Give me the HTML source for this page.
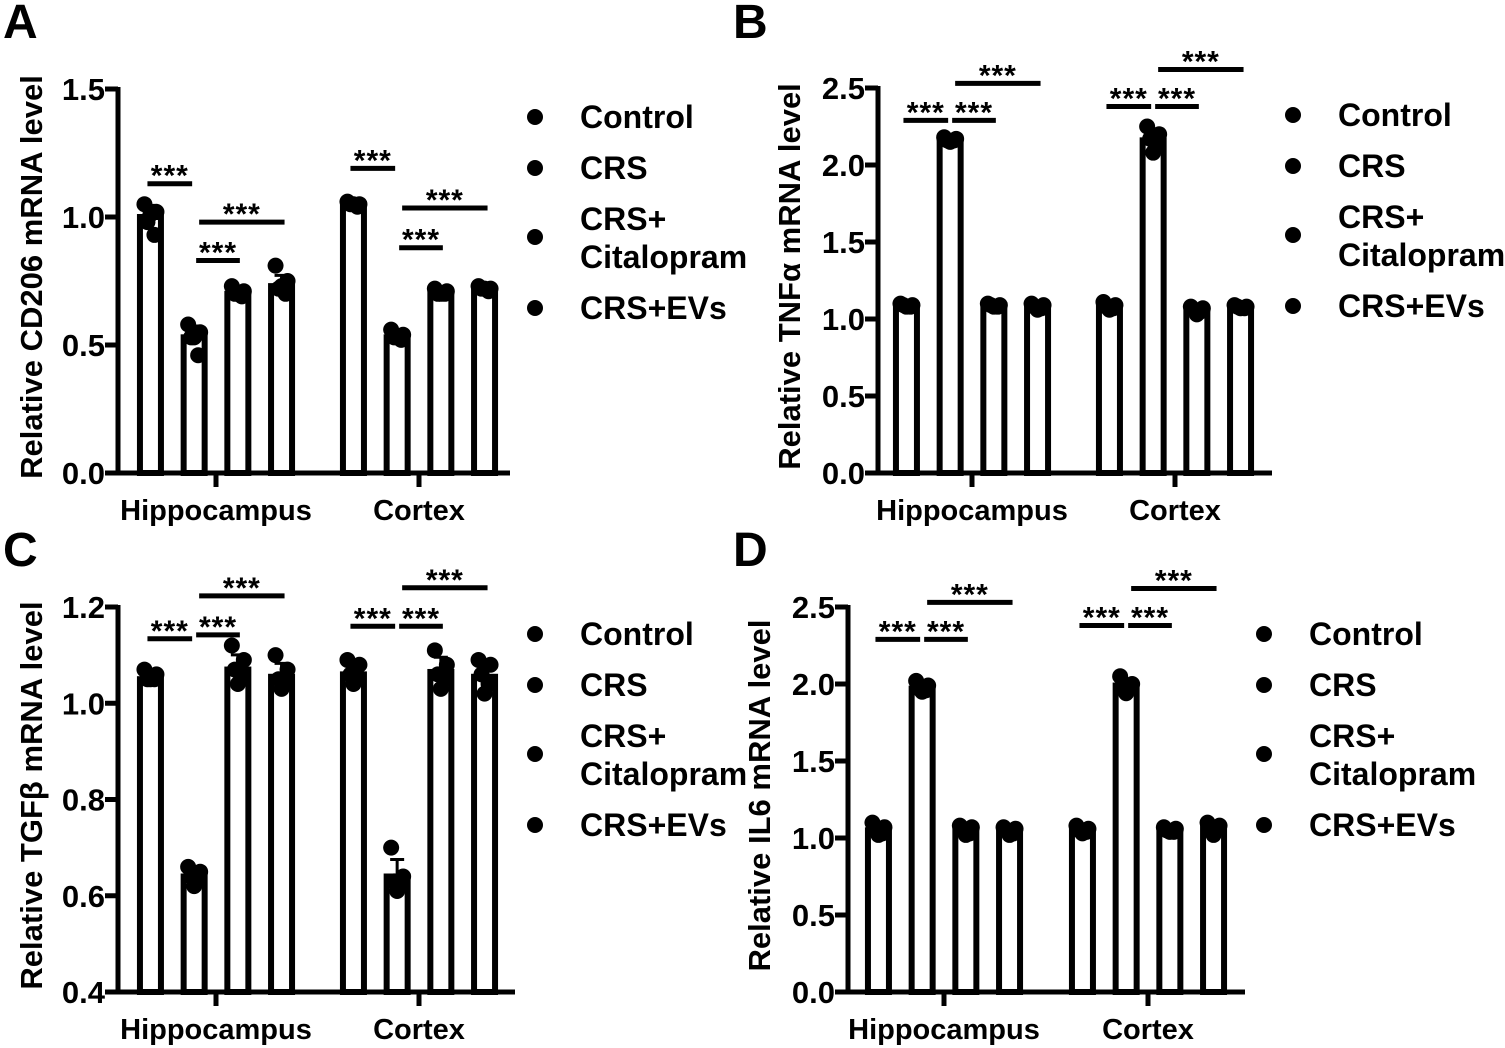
<!DOCTYPE html>
<html><head><meta charset="utf-8"><style>
html,body{margin:0;padding:0;background:#fff;}
svg{display:block;font-family:"Liberation Sans",Arial,sans-serif;font-weight:bold;}
</style></head><body>
<svg id="fig" width="1505" height="1048" viewBox="0 0 1505 1048" xmlns="http://www.w3.org/2000/svg"></svg>
<script>
const regions = ["Hippocampus", "Cortex"];
const groups = ["Control", "CRS", "CRS+Citalopram", "CRS+EVs"];
// Panel A: CD206
const meansA = [[1.00,0.53,0.70,0.73],[1.05,0.53,0.70,0.72]];
const pointsA = [[[1.05,1.02,0.98,0.93,1.01],[0.58,0.55,0.53,0.46,0.53],[0.73,0.71,0.70,0.69,0.70],[0.81,0.75,0.72,0.70,0.73]],
                 [[1.06,1.05,1.05,1.04,1.05],[0.56,0.54,0.53,0.52,0.53],[0.72,0.71,0.70,0.70,0.70],[0.73,0.72,0.72,0.71,0.72]]];
const ticksA = [0.0,0.5,1.0,1.5];
const sigA = [[1.13,0.83,0.98],[1.19,0.88,1.035]];
// Panel B: TNFa
const meansB = [[1.09,2.16,1.09,1.08],[1.08,2.16,1.06,1.08]];
const pointsB = [[[1.10,1.09,1.09,1.08,1.08],[2.18,2.17,2.16,2.16,2.15],[1.10,1.09,1.09,1.08,1.08],[1.10,1.09,1.08,1.07,1.06]],
                 [[1.11,1.09,1.08,1.07,1.06],[2.25,2.20,2.17,2.12,2.08],[1.08,1.07,1.06,1.05,1.03],[1.09,1.08,1.08,1.07,1.07]]];
const ticksB = [0.0,0.5,1.0,1.5,2.0,2.5];
const sigB = [[2.29,2.29,2.53],[2.38,2.38,2.62]];
// Panel C: TGFb
const meansC = [[1.05,0.64,1.07,1.055],[1.06,0.64,1.065,1.055]];
const pointsC = [[[1.07,1.06,1.05,1.05,1.05],[0.66,0.65,0.64,0.63,0.62],[1.12,1.09,1.07,1.06,1.04],[1.10,1.07,1.05,1.04,1.03]],
                 [[1.09,1.08,1.06,1.05,1.04],[0.70,0.64,0.63,0.62,0.61],[1.11,1.08,1.06,1.05,1.03],[1.09,1.08,1.06,1.04,1.02]]];
const ticksC = [0.4,0.6,0.8,1.0,1.2];
const sigC = [[1.134,1.142,1.223],[1.16,1.16,1.24]];
// Panel D: IL6
const meansD = [[1.05,1.97,1.05,1.04],[1.05,1.99,1.05,1.07]];
const pointsD = [[[1.10,1.07,1.05,1.03,1.02],[2.02,1.99,1.97,1.96,1.95],[1.08,1.07,1.05,1.03,1.02],[1.07,1.06,1.05,1.03,1.02]],
                 [[1.08,1.06,1.05,1.04,1.03],[2.05,2.00,1.98,1.97,1.94],[1.07,1.06,1.05,1.04,1.04],[1.10,1.08,1.07,1.06,1.02]]];
const ticksD = [0.0,0.5,1.0,1.5,2.0,2.5];
const sigD = [[2.29,2.29,2.53],[2.38,2.38,2.62]];

const NS = "http://www.w3.org/2000/svg";
const svg = document.getElementById("fig");
function mk(tag, attrs, parent, txt){
  const e = document.createElementNS(NS, tag);
  for (const k in attrs) e.setAttribute(k, attrs[k]);
  if (txt !== undefined) e.textContent = txt;
  (parent || svg).appendChild(e);
  return e;
}
const jit = [-6, 6, -3, 4, 0];
function panel(cfg){
  const g = mk("g", {});
  
  
  const y = v => cfg.y0 - (v - cfg.vmin) * (cfg.y0 - cfg.y1) / (cfg.vmax - cfg.vmin);
  const cx = (r, i) => cfg.ticksX[r] + (i - 1.5) * 43.7;
  const L = mk("text", {x: cfg.lx, y: cfg.ly, "font-size": 48}, g, cfg.letter);
  
  
  const ttl = mk("text", {x: 0, y: 0, "font-size": 31, "text-anchor": "middle", transform: `translate(${cfg.tx},${(cfg.y0+cfg.y1)/2 - 4}) rotate(-90)`}, g, cfg.title);
  
  
  for (let r = 0; r < 2; r++) for (let i = 0; i < 4; i++) {
    const m = cfg.means[r][i], c = cx(r, i);
    const b = mk("rect", {x: c - 10.5, y: y(m), width: 21, height: cfg.y0 - y(m), fill: "#fff", stroke: "#000", "stroke-width": 6}, g);
    
    
    const pts = cfg.points[r][i];
    const mean = pts.reduce((a, b) => a + b, 0) / pts.length;
    const sd = Math.sqrt(pts.reduce((a, b) => a + (b - mean) * (b - mean), 0) / (pts.length - 1));
    const eb = mk("path", {d: `M${c} ${y(m)} V${y(m + sd)} M${c-7} ${y(m + sd)} H${c+7}`, stroke: "#000", "stroke-width": 3, fill: "none"}, g);
    
    
    pts.forEach((p, k) => {
      const d = mk("circle", {cx: c + jit[k], cy: y(p), r: 8, fill: "#000"}, g);
      
      
    });
  }
  const ya = mk("path", {d: `M${cfg.ax} ${y(cfg.vmax) - 2} V${cfg.y0}`, stroke: "#000", "stroke-width": 5}, g);
  
  
  const xa = mk("path", {d: `M${cfg.ax - 2} ${cfg.y0} H${cfg.axEnd}`, stroke: "#000", "stroke-width": 5}, g);
  
  
  cfg.ticks.forEach(t => {
    const tm = mk("path", {d: `M${cfg.ax - 13} ${y(t)} H${cfg.ax}`, stroke: "#000", "stroke-width": 5}, g);
    
    
    const tl = mk("text", {x: cfg.ax - 13, y: y(t) + 11, "font-size": 31, "text-anchor": "end"}, g, t.toFixed(1));
    
    
  });
  regions.forEach((rn, r) => {
    const tm = mk("path", {d: `M${cfg.ticksX[r]} ${cfg.y0} V${cfg.y0 + 14}`, stroke: "#000", "stroke-width": 5}, g);
    
    
    const tl = mk("text", {x: cfg.ticksX[r], y: cfg.y0 + 47, "font-size": 29, "text-anchor": "middle"}, g, rn);
    
    
  });
  const pairs = [[0,1,-3,-2],[1,2,2,2],[1,3,5,3]];
  for (let r = 0; r < 2; r++) pairs.forEach((p, k) => {
    const yy = y(cfg.sig[r][k]);
    const x1 = cx(r, p[0]) + p[2], x2 = cx(r, p[1]) + p[3];
    const ln = mk("path", {d: `M${x1} ${yy} H${x2}`, stroke: "#000", "stroke-width": 5}, g);
    
    
    const st = mk("text", {x: (x1 + x2) / 2, y: yy + 2, "font-size": 30, "text-anchor": "middle", "letter-spacing": 1}, g, "***");
    
    
  });
  const lg = mk("g", {}, g);
  
  
  const ly = [cfg.legY, cfg.legY + 51, cfg.legY + 120, cfg.legY + 191];
  groups.forEach((gn, i) => {
    const d = mk("circle", {cx: cfg.legX, cy: ly[i], r: 8, fill: "#000"}, lg);
    
    
    if (gn === "CRS+Citalopram") {
      const t1 = mk("text", {x: cfg.legX + 45, y: ly[i] - 7, "font-size": 32}, lg, "CRS+");
      
      
      const t2 = mk("text", {x: cfg.legX + 45, y: ly[i] + 31, "font-size": 32}, lg, "Citalopram");
      
      
    } else {
      const t = mk("text", {x: cfg.legX + 45, y: ly[i] + 11, "font-size": 32}, lg, gn);
      
      
    }
  });
}
panel({letter:"A", lx:3, ly:38, title:"Relative CD206 mRNA level", tx:42, ax:118, axEnd:510, y0:473, y1:89, vmin:0, vmax:1.5, ticks:ticksA, means:meansA, points:pointsA, sig:sigA, ticksX:[216,419], legX:535, legY:117});
panel({letter:"B", lx:733, ly:38, title:"Relative TNFα mRNA level", tx:800, ax:878, axEnd:1272, y0:473, y1:88, vmin:0, vmax:2.5, ticks:ticksB, means:meansB, points:pointsB, sig:sigB, ticksX:[972,1175], legX:1293, legY:115});
panel({letter:"C", lx:3, ly:566, title:"Relative TGFβ mRNA level", tx:42, ax:118, axEnd:515, y0:992, y1:607, vmin:0.4, vmax:1.2, ticks:ticksC, means:meansC, points:pointsC, sig:sigC, ticksX:[216,419], legX:535, legY:634});
panel({letter:"D", lx:733, ly:566, title:"Relative IL6 mRNA level", tx:770, ax:848, axEnd:1245, y0:992, y1:607, vmin:0, vmax:2.5, ticks:ticksD, means:meansD, points:pointsD, sig:sigD, ticksX:[944,1148], legX:1264, legY:634});
</script>
</body></html>
